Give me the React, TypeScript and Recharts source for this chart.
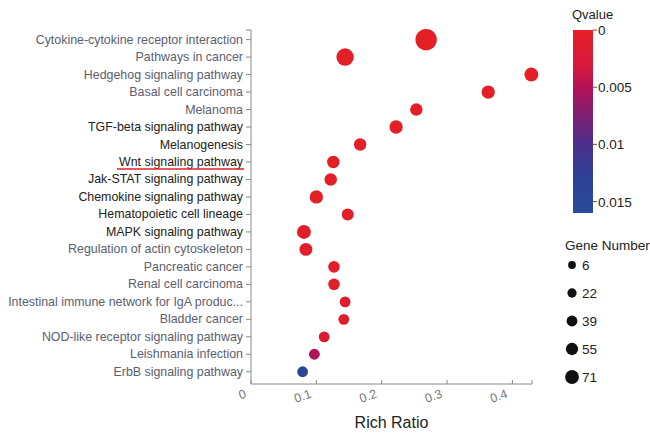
import { ScatterChart, Scatter, XAxis, YAxis, Label } from 'recharts';

const pathways = [
  'Cytokine-cytokine receptor interaction',
  'Pathways in cancer',
  'Hedgehog signaling pathway',
  'Basal cell carcinoma',
  'Melanoma',
  'TGF-beta signaling pathway',
  'Melanogenesis',
  'Wnt signaling pathway',
  'Jak-STAT signaling pathway',
  'Chemokine signaling pathway',
  'Hematopoietic cell lineage',
  'MAPK signaling pathway',
  'Regulation of actin cytoskeleton',
  'Pancreatic cancer',
  'Renal cell carcinoma',
  'Intestinal immune network for IgA produc...',
  'Bladder cancer',
  'NOD-like receptor signaling pathway',
  'Leishmania infection',
  'ErbB signaling pathway',
];

const richRatio = [
  0.268, 0.144, 0.429, 0.363, 0.253, 0.222, 0.167, 0.126, 0.122, 0.1,
  0.148, 0.081, 0.084, 0.127, 0.127, 0.144, 0.142, 0.112, 0.097, 0.079,
];

const qValue = [
  0, 0, 0, 0, 0.0001, 0.0001, 0.0002, 0.0002, 0.0003, 0.0003,
  0.0004, 0.0004, 0.0005, 0.0006, 0.0006, 0.0008, 0.001, 0.0022, 0.0052, 0.0148,
];

const geneNumber = [71, 43, 23, 20, 16, 20, 16, 16, 16, 20, 14, 23, 18, 12, 12, 9, 9, 9, 9, 9];

const X_MAX = 0.43;
const xTicks = [0, 0.1, 0.2, 0.3, 0.4];
const Y_MIN = -0.55;
const Y_MAX = 19.7;
const qTicks = [0, 0.005, 0.01, 0.015];
const geneLegend = [6, 22, 39, 55, 71];

// labels drawn darker in the original
const darkLabels = new Set([
  'TGF-beta signaling pathway',
  'Melanogenesis',
  'Wnt signaling pathway',
  'Jak-STAT signaling pathway',
  'Chemokine signaling pathway',
  'Hematopoietic cell lineage',
  'MAPK signaling pathway',
]);

const Q_MAX = 0.016;
const colorStops: [number, string][] = [
  [0, '#e41f26'],
  [0.003, '#d81a3c'],
  [0.005, '#b31258'],
  [0.0075, '#7d2072'],
  [0.01, '#4b2f8c'],
  [0.013, '#2d4296'],
  [0.016, '#2a4a9b'],
];

function hexToRgb(h: string) {
  const n = parseInt(h.slice(1), 16);
  return [(n >> 16) & 255, (n >> 8) & 255, n & 255];
}

function qColor(q: number): string {
  for (let i = 1; i < colorStops.length; i++) {
    const [q0, c0] = colorStops[i - 1];
    const [q1, c1] = colorStops[i];
    if (q <= q1) {
      const t = (q - q0) / (q1 - q0);
      const a = hexToRgb(c0);
      const b = hexToRgb(c1);
      const m = a.map((v, k) => Math.round(v + (b[k] - v) * t));
      return `rgb(${m[0]},${m[1]},${m[2]})`;
    }
  }
  return colorStops[colorStops.length - 1][1];
}

// bubble radius from gene count (area-linear)
function bubbleRadius(g: number): number {
  const area = 79 + ((g - 6) / 65) * 281;
  return Math.sqrt(area / Math.PI);
}

const data = pathways.map((name, i) => ({
  idx: i,
  name,
  ratio: richRatio[i],
  q: qValue[i],
  genes: geneNumber[i],
}));

const FONT = '"Liberation Sans", Arial, sans-serif';

function YTick(props: any) {
  const { x, y, payload } = props;
  const name = Number.isInteger(payload.value) ? pathways[payload.value] ?? '' : '';
  const dark = darkLabels.has(name);
  return (
    <g>
      <line x1={x + 3} x2={x + 8} y1={y} y2={y} stroke="#888" />
      <text
        x={x}
        y={y}
        dy={4}
        textAnchor="end"
        fontSize={12.4}
        fontFamily={FONT}
        fill={dark ? '#222' : '#5b6070'}
      >
        {name}
      </text>
      {name === 'Wnt signaling pathway' && (
        <line x1={x - 126} x2={x + 1} y1={y + 7} y2={y + 7} stroke="#e0202a" strokeWidth={1.5} />
      )}
    </g>
  );
}

function XTick(props: any) {
  const { x, y, payload } = props;
  const show = xTicks.includes(payload.value);
  return (
    <g>
      <line x1={x} x2={x} y1={y} y2={y - 4} stroke="#888" />
      {show && (
        <text
          x={x - 4}
          y={y + 13}
          textAnchor="end"
          fontSize={12.5}
          fontFamily={FONT}
          fill="#777"
          transform={`rotate(-20, ${x - 4}, ${y + 13})`}
        >
          {payload.value}
        </text>
      )}
    </g>
  );
}

function Bubble(props: any) {
  const { cx, cy, payload } = props;
  return <circle cx={cx} cy={cy} r={bubbleRadius(payload.genes)} fill={qColor(payload.q)} />;
}

export default function App() {
  return (
    <div style={{ position: 'absolute', left: 0, top: 0, width: 650, height: 433, background: '#fff' }}>
      <ScatterChart width={650} height={433} margin={{ top: 30, right: 118, left: 0, bottom: 0 }}>
        <XAxis
          type="number"
          dataKey="ratio"
          domain={[0, X_MAX]}
          ticks={[...xTicks, X_MAX]}
          interval={0}
          stroke="#888"
          tickLine={false}
          tickSize={0}
          tickMargin={0}
          tick={<XTick />}
          height={49}
        >
          <Label
            value="Rich Ratio"
            position="insideBottom"
            offset={5}
            style={{ fontSize: 16, fill: '#222', fontFamily: FONT }}
          />
        </XAxis>
        <YAxis
          type="number"
          dataKey="idx"
          reversed
          domain={[Y_MIN, Y_MAX]}
          ticks={[Y_MIN, ...pathways.map((_, i) => i)]}
          interval={0}
          width={251}
          stroke="#888"
          tickLine={false}
          tickSize={5}
          tickMargin={3}
          tick={<YTick />}
        />
        <Scatter data={data} shape={<Bubble />} isAnimationActive={false} />
      </ScatterChart>
      <svg
        width={650}
        height={433}
        style={{ position: 'absolute', left: 0, top: 0, pointerEvents: 'none' }}
      >
        <defs>
          <linearGradient id="qgrad" x1="0" y1="0" x2="0" y2="1">
            {colorStops.map(([q, c]) => (
              <stop key={q} offset={q / Q_MAX} stopColor={c} />
            ))}
          </linearGradient>
        </defs>
        <text x={572} y={19} fontSize={13} fontFamily={FONT} fill="#222">
          Qvalue
        </text>
        <rect x={573} y={30} width={20} height={183} fill="url(#qgrad)" />
        {qTicks.map((q) => {
          const ty = 30 + (q / Q_MAX) * 183;
          return (
            <g key={q}>
              <line x1={593} x2={597} y1={ty} y2={ty} stroke="#555" />
              <text x={598} y={ty + 5} fontSize={13.5} fontFamily={FONT} fill="#222">
                {q}
              </text>
            </g>
          );
        })}
        <text x={565} y={250} fontSize={13.5} fontFamily={FONT} fill="#222">
          Gene Number
        </text>
        {geneLegend.map((g, i) => {
          const ly = 265 + i * 28;
          const r = 3.9 + ((g - 6) / 65) * 3;
          return (
            <g key={g}>
              <circle cx={572} cy={ly} r={r} fill="#111" />
              <text x={582} y={ly + 5} fontSize={13.5} fontFamily={FONT} fill="#222">
                {g}
              </text>
            </g>
          );
        })}
      </svg>
    </div>
  );
}
